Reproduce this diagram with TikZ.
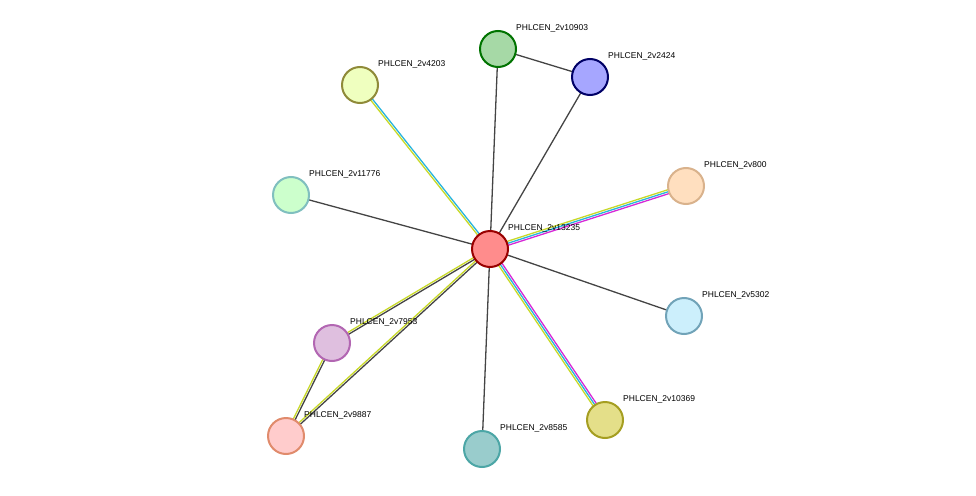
\documentclass[tikz,border=0pt]{standalone}
\usepackage{fontspec}
\setmainfont{Liberation Sans}
\usetikzlibrary{calc}
\usetikzlibrary{backgrounds}
\definecolor{edgegray}{HTML}{444444}
\definecolor{tmgreen}{HTML}{C8D928}
\definecolor{dbcyan}{HTML}{28B4DC}
\definecolor{expmag}{HTML}{D628D6}

\tikzset{
  prot/.style={circle, draw, line width=2pt, minimum size=36pt, inner sep=0pt},
  lbl/.style={anchor=west, font=\fontsize{8.5}{10}\selectfont, inner sep=0pt},
  link/.style={line width=1.3pt},
}

% one strand of a link, moved sideways by #4
\newcommand{\strand}[4]{%
  \draw[link, #3] ($(#1)!#4!90:(#2)$) -- ($(#2)!#4!-90:(#1)$);}

\begin{document}
\begin{tikzpicture}[x=1pt, y=-1pt]
			\useasboundingbox (0,0) rectangle (976,495);
			
			\node[prot, draw=red!60!black, fill=red!45] (hub) at (490,249) {};
			\node[prot, draw=green!45!black, fill=green!40!gray!50] (n10903) at (498,49) {};
			\node[prot, draw=blue!40!black, fill=blue!35] (n2424) at (590,77) {};
			\node[prot, draw=olive!60!gray, fill=lime!25] (n4203) at (360,85) {};
			\node[prot, draw=brown!60, fill=orange!25] (n800) at (686,186) {};
			\node[prot, draw=teal!50, fill=green!20] (n11776) at (291,195) {};
			\node[prot, draw=cyan!40!gray, fill=cyan!20] (n5302) at (684,316) {};
			\node[prot, draw=violet!60, fill=violet!25] (n7953) at (332,343) {};
			\node[prot, draw=red!30!brown!70, fill=red!20] (n9887) at (286,436) {};
			\node[prot, draw=teal!70, fill=teal!40] (n8585) at (482,449) {};
			\node[prot, draw=olive!80, fill=yellow!40!olive!40] (n10369) at (605,420) {};
			
			\foreach \n/\t in {hub/2v13235, n10903/2v10903, n2424/2v2424, n4203/2v4203,
			  n800/2v800, n11776/2v11776, n5302/2v5302, n7953/2v7953, n9887/2v9887,
			  n8585/2v8585, n10369/2v10369}
			  \node[lbl] (\n-t) at ($(\n)+(18,-21)$) {PHLCEN\_\t};
			
			\begin{scope}[on background layer]
			\strand{hub}{n10903}{edgegray}{0pt}
			\strand{n10903}{n2424}{edgegray}{0pt}
			\strand{hub}{n2424}{edgegray}{0pt}
			\strand{hub}{n11776}{edgegray}{0pt}
			\strand{hub}{n5302}{edgegray}{0pt}
			\strand{hub}{n8585}{edgegray}{0pt}
			
			\strand{hub}{n4203}{dbcyan}{-1pt}
			\strand{hub}{n4203}{tmgreen}{1pt}
			
			\strand{hub}{n800}{expmag}{-2pt}
			\strand{hub}{n800}{dbcyan}{0pt}
			\strand{hub}{n800}{tmgreen}{2pt}
			
			\strand{hub}{n10369}{expmag}{2pt}
			\strand{hub}{n10369}{dbcyan}{0pt}
			\strand{hub}{n10369}{tmgreen}{-2pt}
			
			\strand{hub}{n7953}{tmgreen}{-1pt}
			\strand{hub}{n7953}{edgegray}{1pt}
			\strand{hub}{n9887}{tmgreen}{-1pt}
			\strand{hub}{n9887}{edgegray}{1pt}
			\strand{n7953}{n9887}{tmgreen}{-1pt}
			\strand{n7953}{n9887}{edgegray}{1pt}
			\end{scope}
			
		\end{tikzpicture}
\end{document}
